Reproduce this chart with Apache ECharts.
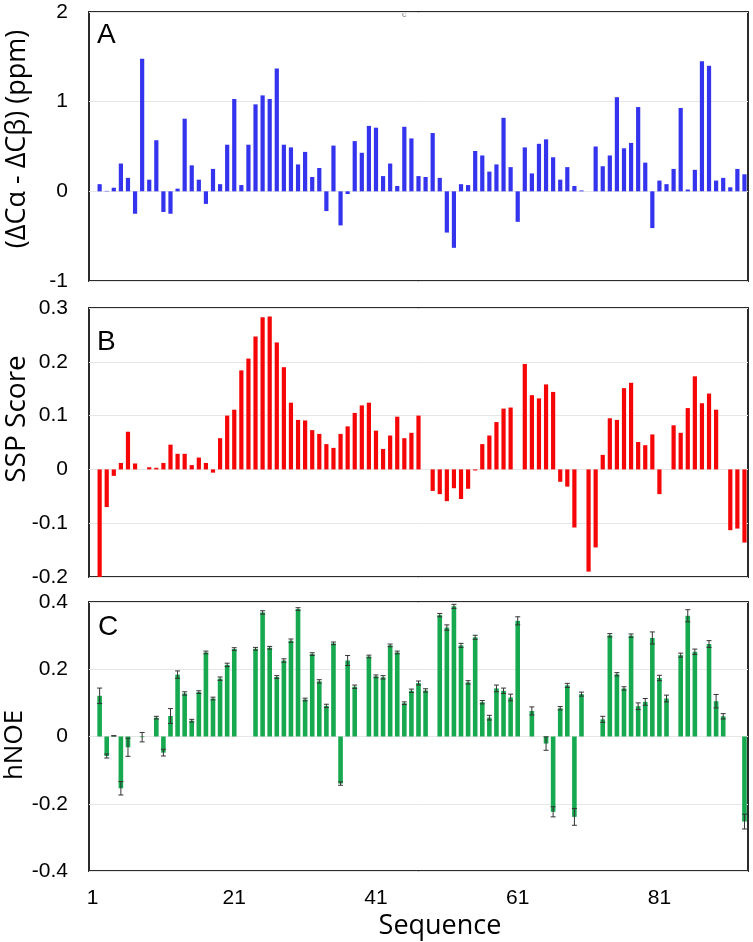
<!DOCTYPE html>
<html>
<head>
<meta charset="utf-8">
<title>Sequence profiles</title>
<script src="https://cdn.jsdelivr.net/npm/echarts@6/dist/echarts.min.js"></script>
<style>
  html, body { margin: 0; padding: 0; background: #fff; }
  #chart { width: 753px; height: 942px; }
</style>
</head>
<body>
<div id="chart"></div>
<script>
  // residue numbers 1..93 (category axis)
  var residues = Array.from({ length: 93 }, function (d, i) { return String(i + 1) })
  var seqTicks = ['1', '21', '41', '61', '81']

  // A: (dCa - dCb) secondary shift, ppm
  var dCaCb = [
    null, 0.08, 0.005, 0.04, 0.31, 0.15, -0.25, 1.48, 0.13, 0.57,
    -0.23, -0.25, 0.03, 0.81, 0.29, 0.13, -0.14, 0.25, 0.08, 0.52,
    1.03, 0.07, 0.52, 0.97, 1.07, 1.03, 1.37, 0.52, 0.49, 0.30,
    0.44, 0.16, 0.26, -0.22, 0.51, -0.38, -0.03, 0.56, 0.43, 0.73,
    0.71, 0.17, 0.31, 0.06, 0.72, 0.59, 0.17, 0.16, 0.65, 0.15,
    -0.46, -0.63, 0.08, 0.07, 0.45, 0.40, 0.22, 0.30, 0.82, 0.27,
    -0.34, 0.49, 0.20, 0.53, 0.58, 0.38, 0.13, 0.27, 0.06, 0.01,
    null, 0.50, 0.28, 0.40, 1.05, 0.48, 0.54, 0.94, 0.32, -0.41,
    0.12, 0.08, 0.25, 0.93, 0.02, 0.24, 1.45, 1.40, 0.12, 0.15,
    0.045, 0.25, 0.19
  ]

  // B: SSP score
  var sspScore = [
    null, -0.2, -0.07, -0.012, 0.012, 0.07, 0.011, null, 0.004, 0.003,
    0.012, 0.046, 0.029, 0.029, 0.008, 0.022, 0.012, -0.006, 0.058, 0.1,
    0.111, 0.184, 0.206, 0.247, 0.283, 0.284, 0.236, 0.19, 0.124, 0.092,
    0.091, 0.073, 0.066, 0.047, 0.04, 0.066, 0.08, 0.105, 0.119, 0.124,
    0.072, 0.038, 0.063, 0.098, 0.058, 0.068, 0.1, null, -0.04, -0.046,
    -0.059, -0.035, -0.055, -0.036, -0.002, 0.047, 0.063, 0.088, 0.113, 0.115,
    null, 0.196, 0.138, 0.132, 0.158, 0.144, -0.023, -0.032, -0.108, null,
    -0.19, -0.145, 0.027, 0.095, 0.092, 0.151, 0.161, 0.051, 0.045, 0.065,
    -0.046, null, 0.082, 0.068, 0.114, 0.173, 0.123, 0.141, 0.111, null,
    -0.113, -0.11, -0.136
  ]

  // C: heteronuclear NOE and its error
  var hNOE = [
    null, 0.121, -0.058, 0.002, -0.154, -0.032, null, -0.002, null, 0.056,
    -0.048, 0.061, 0.184, 0.128, 0.047, 0.132, 0.25, 0.113, 0.172, 0.213,
    0.26, null, null, 0.261, 0.369, 0.264, 0.177, 0.226, 0.285, 0.379,
    0.11, 0.245, 0.164, 0.091, 0.277, -0.14, 0.226, 0.148, null, 0.238,
    0.179, 0.176, 0.271, 0.25, 0.099, 0.136, 0.159, 0.137, null, 0.361,
    0.324, 0.387, 0.271, 0.161, 0.295, 0.102, 0.056, 0.143, 0.136, 0.116,
    0.344, null, 0.076, null, -0.021, -0.224, 0.084, 0.152, -0.239, 0.126,
    null, null, 0.051, 0.301, 0.185, 0.143, 0.3, 0.09, 0.103, 0.293,
    0.174, 0.113, null, 0.242, 0.359, 0.252, null, 0.275, 0.105, 0.06,
    null, null, -0.253
  ]
  var hNOEErr = [
    null, 0.023, 0.006, 0, 0.02, 0.027, null, 0.014, null, 0.004,
    0.01, 0.022, 0.011, 0.005, 0.004, 0.004, 0.004, 0.004, 0.005, 0.005,
    0.004, null, null, 0.004, 0.005, 0.004, 0.004, 0.005, 0.005, 0.004,
    0.004, 0.004, 0.005, 0.005, 0.004, 0.005, 0.015, 0.005, null, 0.004,
    0.004, 0.005, 0.004, 0.004, 0.004, 0.005, 0.006, 0.005, null, 0.005,
    0.008, 0.006, 0.006, 0.005, 0.006, 0.005, 0.007, 0.01, 0.008, 0.01,
    0.012, null, 0.012, null, 0.02, 0.015, 0.005, 0.006, 0.025, 0.006,
    null, null, 0.009, 0.005, 0.005, 0.005, 0.005, 0.01, 0.01, 0.018,
    0.008, 0.01, null, 0.006, 0.018, 0.008, null, 0.01, 0.02, 0.008,
    null, null, 0.022
  ]

  var tickFont = { fontSize: 21, color: '#000', fontFamily: 'Liberation Sans, Arial, sans-serif' }
  var titleFont = 'Open Sans, Noto Sans, sans-serif'

  var errData = []
  hNOE.forEach(function (v, i) {
    if (v !== null && hNOEErr[i] !== null) errData.push([i, v, hNOEErr[i]])
  })

  function renderErr(params, api) {
    var x = api.value(0)
    var v = api.value(1)
    var e = api.value(2)
    var hi = api.coord([x, v + e])
    var lo = api.coord([x, v - e])
    var w = 2.5
    var st = { stroke: '#333', lineWidth: 1 }
    return {
      type: 'group',
      children: [
        { type: 'line', shape: { x1: hi[0], y1: hi[1], x2: lo[0], y2: lo[1] }, style: st },
        { type: 'line', shape: { x1: hi[0] - w, y1: hi[1], x2: hi[0] + w, y2: hi[1] }, style: st },
        { type: 'line', shape: { x1: lo[0] - w, y1: lo[1], x2: lo[0] + w, y2: lo[1] }, style: st }
      ]
    }
  }

  function grid(top) {
    return { left: 89, right: 5, top: top, height: 269, show: true, borderColor: '#2b2b2b', borderWidth: 2, backgroundColor: 'transparent' }
  }

  function xAxis(idx, showLabels) {
    return {
      type: 'category',
      gridIndex: idx,
      data: residues,
      axisLine: { show: false },
      axisTick: { show: false },
      splitLine: { show: false },
      axisLabel: Object.assign({
        show: showLabels,
        interval: 19,
        margin: 17,
        formatter: function (val) { return seqTicks.indexOf(val) >= 0 ? val : '' }
      }, tickFont)
    }
  }

  function yAxis(idx, min, max, step) {
    return {
      type: 'value',
      gridIndex: idx,
      min: min,
      max: max,
      interval: step,
      axisLine: { show: false },
      axisTick: { show: false },
      splitLine: { show: true, lineStyle: { color: '#e6e6e6', width: 1 } },
      axisLabel: Object.assign({
        margin: 21,
        formatter: function (val) { return String(Math.round(val * 10) / 10) }
      }, tickFont)
    }
  }

  function sideText(text, x, y, size, rotate) {
    return {
      type: 'text',
      x: x,
      y: y,
      rotation: rotate ? Math.PI / 2 : 0,
      style: {
        text: text,
        fontSize: size,
        fontFamily: titleFont,
        fill: '#000',
        textAlign: 'center',
        textVerticalAlign: 'middle'
      }
    }
  }

  var chart = echarts.init(document.getElementById('chart'))
  chart.setOption({
    animation: false,
    backgroundColor: '#fff',
    grid: [grid(12), grid(308), grid(602)],
    xAxis: [xAxis(0, false), xAxis(1, false), xAxis(2, true)],
    yAxis: [yAxis(0, -1, 2, 1), yAxis(1, -0.2, 0.3, 0.1), yAxis(2, -0.4, 0.4, 0.2)],
    series: [
      { type: 'bar', xAxisIndex: 0, yAxisIndex: 0, data: dCaCb, barWidth: 4.2, itemStyle: { color: '#3434ee' } },
      { type: 'bar', xAxisIndex: 1, yAxisIndex: 1, data: sspScore, barWidth: 4.2, itemStyle: { color: '#f50505' } },
      { type: 'bar', xAxisIndex: 2, yAxisIndex: 2, data: hNOE, barWidth: 4.6, itemStyle: { color: '#16a94f' } },
      {
        type: 'custom', xAxisIndex: 2, yAxisIndex: 2, data: errData,
        encode: { x: 0, y: 1 }, renderItem: renderErr, z: 5
      }
    ],
    graphic: [
      sideText('(ΔCα - ΔCβ) (ppm)', 17, 139, 27, true),
      sideText('SSP Score', 17, 419, 28, true),
      sideText('hNOE', 15, 745, 26, true),
      sideText('Sequence', 440, 926, 27, false),
      { type: 'text', left: 97, top: 21, style: { text: 'A', fontSize: 28, fontFamily: 'Liberation Sans, Arial', fill: '#000' } },
      { type: 'text', left: 97, top: 328, style: { text: 'B', fontSize: 28, fontFamily: 'Liberation Sans, Arial', fill: '#000' } },
      { type: 'text', left: 98, top: 613, style: { text: 'C', fontSize: 28, fontFamily: 'Liberation Sans, Arial', fill: '#000' } },
      { type: 'text', left: 402, top: 10, style: { text: 'c', fontSize: 9, fontFamily: 'Liberation Sans, Arial', fill: '#777' } }
    ]
  })
</script>
</body>
</html>
